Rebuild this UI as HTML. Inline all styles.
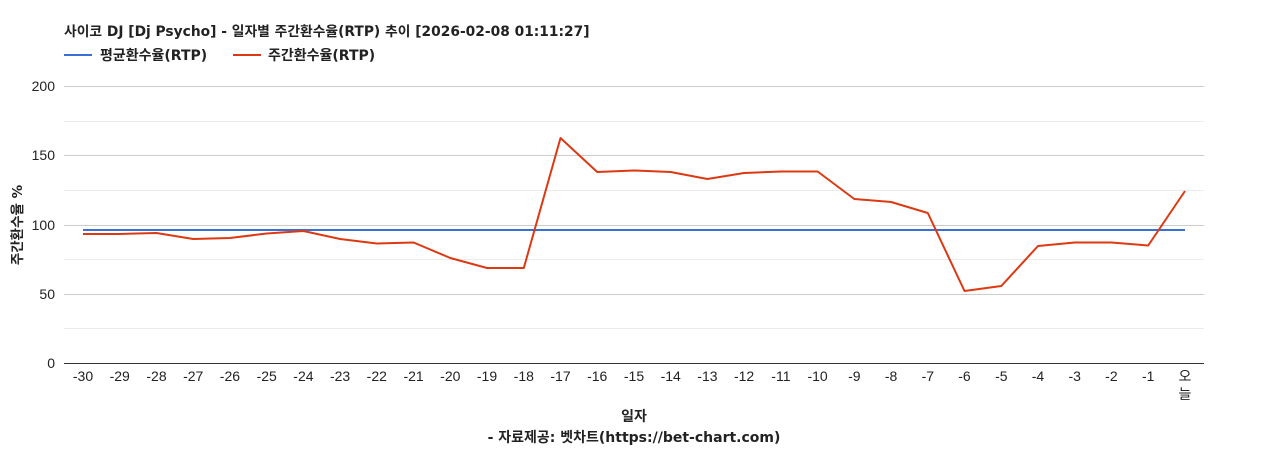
<!DOCTYPE html>
<html><head><meta charset="utf-8"><style>
body{margin:0;background:#fff;}
svg{display:block;font-family:"Liberation Sans","Noto Sans CJK KR",sans-serif;}
.d{font-family:"DejaVu Sans","Noto Sans CJK KR",sans-serif;}
</style></head><body>
<svg width="1268" height="450" viewBox="0 0 1268 450">
<text class="d" x="64" y="36" font-size="13.8" font-weight="bold" fill="#222">사이코 DJ [Dj Psycho] - 일자별 주간환수율(RTP) 추이 [2026-02-08 01:11:27]</text>
<line x1="64" y1="55" x2="92" y2="55" stroke="#3b6fd8" stroke-width="2"/>
<text class="d" x="100" y="60" font-size="14" font-weight="bold" fill="#222">평균환수율(RTP)</text>
<line x1="233" y1="55" x2="261" y2="55" stroke="#dc3912" stroke-width="2"/>
<text class="d" x="268" y="60" font-size="14" font-weight="bold" fill="#222">주간환수율(RTP)</text>
<g stroke="#ebebeb" stroke-width="1">
<line x1="64" y1="121.5" x2="1204" y2="121.5"/><line x1="64" y1="190.5" x2="1204" y2="190.5"/>
<line x1="64" y1="259.5" x2="1204" y2="259.5"/><line x1="64" y1="328.5" x2="1204" y2="328.5"/>
</g>
<g stroke="#cccccc" stroke-width="1">
<line x1="64" y1="86.5" x2="1204" y2="86.5"/><line x1="64" y1="155.5" x2="1204" y2="155.5"/>
<line x1="64" y1="225.5" x2="1204" y2="225.5"/><line x1="64" y1="294.5" x2="1204" y2="294.5"/>
</g>
<line x1="64" y1="363.5" x2="1204" y2="363.5" stroke="#333" stroke-width="1"/>
<g font-size="14" fill="#222" text-anchor="end">
<text x="55" y="91">200</text><text x="55" y="160">150</text><text x="55" y="230">100</text><text x="55" y="299">50</text><text x="55" y="368">0</text>
</g>
<text class="d" transform="translate(22,225) rotate(-90)" font-size="13.5" font-weight="bold" fill="#222" text-anchor="middle">주간환수율 %</text>
<g font-size="14" fill="#222" text-anchor="middle">
<text x="83" y="381">-30</text><text x="119.7" y="381">-29</text><text x="156.5" y="381">-28</text><text x="193.2" y="381">-27</text><text x="229.9" y="381">-26</text><text x="266.7" y="381">-25</text><text x="303.4" y="381">-24</text><text x="340.1" y="381">-23</text><text x="376.8" y="381">-22</text><text x="413.6" y="381">-21</text><text x="450.3" y="381">-20</text><text x="487" y="381">-19</text><text x="523.8" y="381">-18</text><text x="560.5" y="381">-17</text><text x="597.2" y="381">-16</text><text x="634" y="381">-15</text><text x="670.7" y="381">-14</text><text x="707.4" y="381">-13</text><text x="744.1" y="381">-12</text><text x="780.9" y="381">-11</text><text x="817.6" y="381">-10</text><text x="854.3" y="381">-9</text><text x="891.1" y="381">-8</text><text x="927.8" y="381">-7</text><text x="964.5" y="381">-6</text><text x="1001.3" y="381">-5</text><text x="1038" y="381">-4</text><text x="1074.7" y="381">-3</text><text x="1111.4" y="381">-2</text><text x="1148.2" y="381">-1</text><text x="1185" y="381">오</text><text x="1185" y="399">늘</text>
</g>
<text class="d" x="634" y="421" font-size="14" font-weight="bold" fill="#222" text-anchor="middle">일자</text>
<text class="d" x="634" y="442" font-size="14" font-weight="bold" fill="#222" text-anchor="middle">- 자료제공: 벳차트(https://bet-chart.com)</text>
<line x1="83" y1="230" x2="1185" y2="230" stroke="#3b6fd8" stroke-width="2"/>
<polyline fill="none" stroke="#dc3912" stroke-width="2" stroke-linejoin="round" points="83,234 119.7,234 156.5,233 193.2,239 229.9,238 266.7,233.5 303.4,231 340.1,239 376.8,243.5 413.6,242.5 450.3,258 487,268 523.8,268 560.5,138 597.2,172 634,170.5 670.7,172 707.4,179 744.1,173 780.9,171.5 817.6,171.5 854.3,199 891.1,202 927.8,213 964.5,291 1001.3,286 1038,246 1074.7,242.5 1111.4,242.5 1148.2,245.5 1185,191"/>
</svg>
</body></html>
